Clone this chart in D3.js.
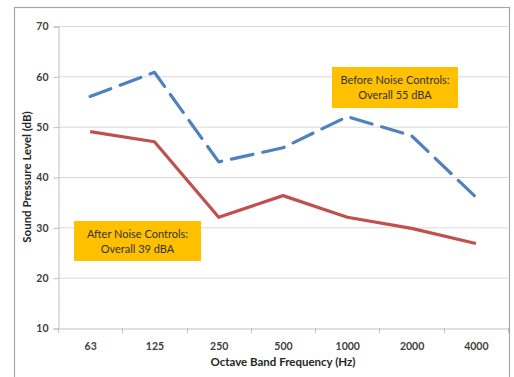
<!DOCTYPE html>
<html><head><meta charset="utf-8">
<script src="https://cdn.jsdelivr.net/npm/d3@7"></script>
<style>body{margin:0;background:#fff}svg{display:block}</style>
</head><body>
<svg id="c" width="514" height="377"></svg>
<script>
const categories = ["63","125","250","500","1000","2000","4000"];
const beforeValues = [56, 60.8, 43, 45.8, 52, 48.2, 36];
const afterValues = [49, 47, 32, 36.3, 32, 29.8, 26.8];
const yTicks = [10,20,30,40,50,60,70];
const beforeLabel = ["Before Noise Controls:", "Overall 55 dBA"];
const afterLabel = ["After Noise Controls:", "Overall 39 dBA"];

const svg = d3.select("#c");
const font = "Lato, 'Open Sans', sans-serif";
const m = {l:58, r:508, t:26, b:328};

// outer frame
svg.append("rect").attr("x",14.5).attr("y",7.5).attr("width",495).attr("height",380)
  .attr("fill","#fff").attr("stroke","#a6a6a6").attr("stroke-width",1.2);

const x = d3.scaleBand().domain(categories).range([m.l, m.r]);
const y = d3.scaleLinear().domain([10,70]).range([m.b, m.t]);

// gridlines
svg.append("g").selectAll("line").data(yTicks.filter(d=>d>10)).join("line")
  .attr("x1",m.l).attr("x2",m.r).attr("y1",d=>y(d)+0.5).attr("y2",d=>y(d)+0.5)
  .attr("stroke","#d9d9d9").attr("stroke-width",1);

// y axis
const ya = svg.append("g").attr("transform",`translate(${m.l+0.5},0.5)`)
  .call(d3.axisLeft(y).tickValues(yTicks).tickSize(5).tickPadding(5).tickFormat(d3.format("d")));
ya.select(".domain").attr("stroke","#bfbfbf");
ya.selectAll(".tick line").attr("stroke","#bfbfbf");
ya.selectAll("text").attr("font-family",font).attr("font-weight","bold").attr("font-size",10.5).attr("fill","#404040");

// x axis
const xa = svg.append("g").attr("transform",`translate(0.5,${m.b+0.5})`)
  .call(d3.axisBottom(x).tickSize(0).tickPadding(14));
xa.select(".domain").attr("stroke","#bfbfbf");
xa.selectAll("text").attr("font-family",font).attr("font-weight","bold").attr("font-size",10.5).attr("fill","#404040");
// boundary tick marks
const bounds = categories.map(c=>x(c)).concat([m.r]);
svg.append("g").selectAll("line").data(bounds).join("line")
  .attr("x1",d=>Math.round(d)+0.5).attr("x2",d=>Math.round(d)+0.5)
  .attr("y1",m.b).attr("y2",m.b+5).attr("stroke","#bfbfbf");

const cx = c => x(c) + x.bandwidth()/2;
const line = d3.line().x(d=>cx(d[0])).y(d=>y(d[1]));

svg.append("path").datum(categories.map((c,i)=>[c,afterValues[i]]))
  .attr("d",line).attr("fill","none").attr("stroke","#c0504d").attr("stroke-width",3.2)
  .attr("stroke-linejoin","round");
svg.append("path").datum(categories.map((c,i)=>[c,beforeValues[i]]))
  .attr("d",line).attr("fill","none").attr("stroke","#4f81bd").attr("stroke-width",3.2)
  .attr("stroke-dasharray","22 10").attr("stroke-linecap","round").attr("stroke-linejoin","round");

// annotations
function box(x0,y0,w,h,lines){
  svg.append("rect").attr("x",x0).attr("y",y0).attr("width",w).attr("height",h).attr("fill","#ffc000");
  svg.append("text").attr("font-family",font).attr("font-size",11).attr("fill","#333")
    .attr("text-anchor","middle")
    .selectAll("tspan").data(lines).join("tspan")
    .attr("x",x0+w/2).attr("y",(d,i)=>y0+17+i*15).text(d=>d);
}
box(332,67,126,41,beforeLabel);
box(74,221,127,40,afterLabel);

// axis titles
svg.append("text").attr("transform",`translate(31,${(m.t+m.b)/2}) rotate(-90)`)
  .attr("text-anchor","middle").attr("font-family",font).attr("font-weight","bold")
  .attr("font-size",11.5).attr("fill","#262626").text("Sound Pressure Level (dB)");
svg.append("text").attr("x",(m.l+m.r)/2).attr("y",366)
  .attr("text-anchor","middle").attr("font-family",font).attr("font-weight","bold")
  .attr("font-size",11.5).attr("fill","#262626").text("Octave Band Frequency (Hz)");
</script>
</body></html>
